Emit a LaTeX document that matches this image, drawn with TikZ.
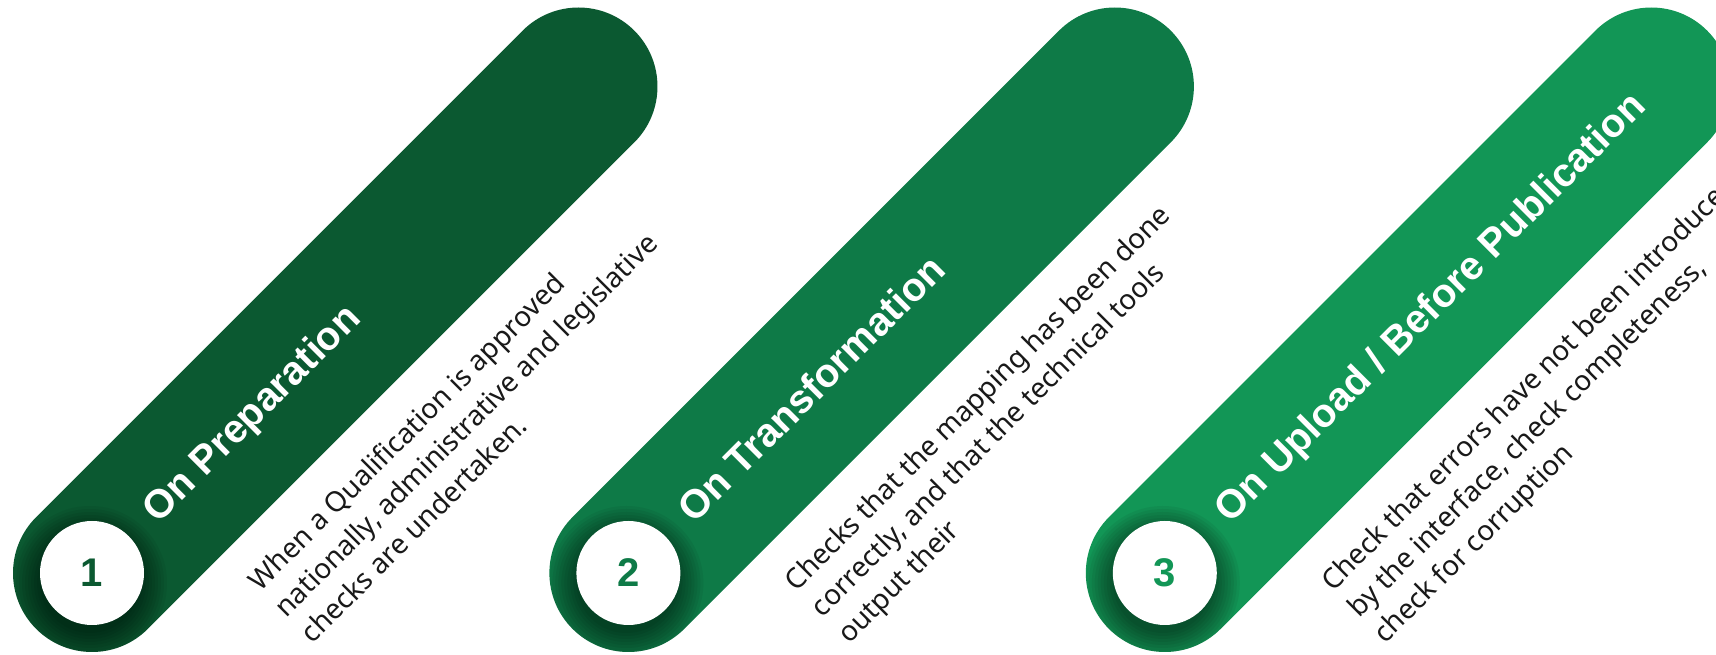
\documentclass[tikz,border=0pt]{standalone}
\usepackage{fontspec}
\setmainfont{Noto Sans}
\newfontfamily\headfont{Liberation Sans}
\usetikzlibrary{positioning}
\definecolor{stepone}{RGB}{11,89,49}
\definecolor{steptwo}{RGB}{14,122,71}
\definecolor{stepthree}{RGB}{18,150,86}
\pgfdeclarelayer{background}
\pgfsetlayers{background,main}
\newcommand{\pillpath}[1]{(#1.center) ++(135:79) arc[start angle=135,end angle=315,radius=79] -- ++(45:688) arc[start angle=-45,end angle=135,radius=79] -- cycle}
\tikzset{numcirc/.style={circle,fill=white,minimum size=104pt,inner sep=0pt,font=\fontsize{40}{40}\selectfont\headfont\bfseries},steptitle/.style={rotate=45,anchor=base west,inner sep=0pt,text=white,font=\fontsize{40}{40}\selectfont\headfont\bfseries},stepbody/.style={rotate=45,anchor=north west,inner sep=0pt,align=left,text=black!90,font=\fontsize{28}{37}\selectfont},halo/.style={black,opacity=0.055}}

\begin{document}
\begin{tikzpicture}[x=1pt, y=1pt, node distance=432pt]
\useasboundingbox (0,0) rectangle (1716,655);
\node[numcirc, text=stepone] (n1) at (92,82) {1};
\node[numcirc, text=steptwo, right=of n1] (n2) {2};
\node[numcirc, text=stepthree, right=of n2] (n3) {3};
\node[steptitle] (t1) at ([shift={(66,48)}]n1.center) {On Preparation};
\node[steptitle] (t2) at ([shift={(66,48)}]n2.center) {On Transformation};
\node[steptitle] (t3) at ([shift={(66,48)}]n3.center) {On Upload / Before Publication};
\node[stepbody] (b1) at ([shift={(153,-4)}]n1.center) {When a Qualification is approved\\nationally, administrative and legislative\\checks are undertaken.};
\node[stepbody] (b2) at ([shift={(153,-4)}]n2.center) {Checks that the mapping has been done\\correctly, and that the technical tools\\output their};
\node[stepbody] (b3) at ([shift={(153,-4)}]n3.center) {Check that errors have not been introduced\\by the interface, check completeness,\\check for corruption};
\begin{pgfonlayer}{background}
\begin{scope}
\fill[stepone] \pillpath{n1};
\clip \pillpath{n1};
\foreach \r in {50,53,...,77} \fill[halo] ([shift={(-2,-10)}]n1.center) circle (\r);
\end{scope}
\begin{scope}
\fill[steptwo] \pillpath{n2};
\clip \pillpath{n2};
\foreach \r in {50,53,...,77} \fill[halo] ([shift={(-2,-10)}]n2.center) circle (\r);
\end{scope}
\begin{scope}
\fill[stepthree] \pillpath{n3};
\clip \pillpath{n3};
\foreach \r in {50,53,...,77} \fill[halo] ([shift={(-2,-10)}]n3.center) circle (\r);
\end{scope}
\end{pgfonlayer}
\end{tikzpicture}
\end{document}
